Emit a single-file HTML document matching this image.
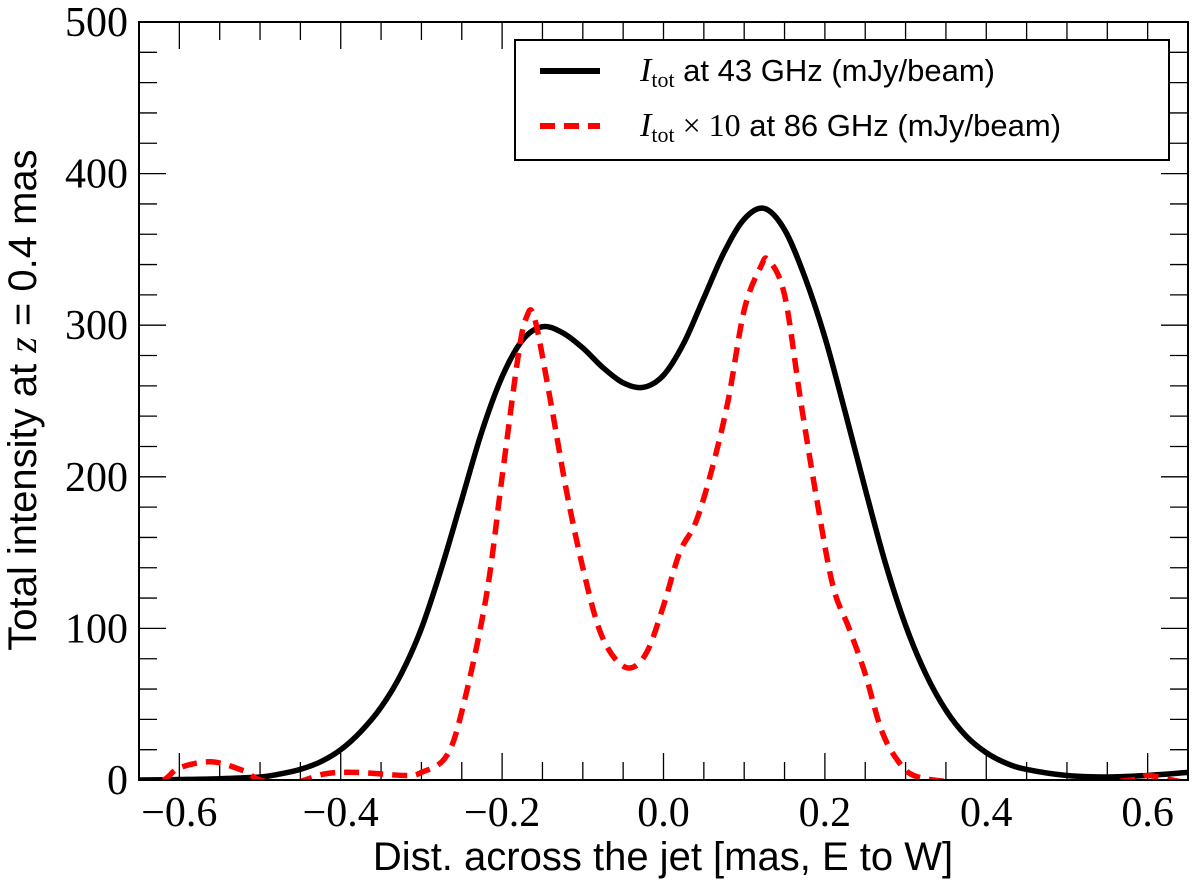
<!DOCTYPE html>
<html><head><meta charset="utf-8"><style>
body{margin:0;background:#fff}
svg{display:block}
.tk{font-family:"Liberation Serif",serif;font-size:42px;fill:#000}
.lb{font-family:"Liberation Sans",sans-serif;font-size:40px;fill:#000}
.lg{font-family:"Liberation Sans",sans-serif;font-size:31px;fill:#000}
.it{font-family:"Liberation Serif",serif;font-style:italic}
</style></head><body>
<svg id="chart" width="1200" height="890" viewBox="0 0 1200 890">
<defs><clipPath id="pc"><rect x="139" y="22" width="1049" height="758"/></clipPath></defs>
<g id="ticks"></g>
<g id="series" clip-path="url(#pc)"></g>
<rect x="139" y="22" width="1049" height="758" fill="none" stroke="#000" stroke-width="2"/>
<g id="labels"></g>
<text class="lb" x="663" y="870" text-anchor="middle">Dist. across the jet [mas, E to W]</text>
<text class="lb" transform="translate(36,400) rotate(-90)" text-anchor="middle">Total intensity at <tspan class="it">z</tspan> = 0.4 mas</text>
<g>
<rect x="515" y="40" width="654" height="120" fill="#fff" stroke="#000" stroke-width="2"/>
<line x1="540" y1="71" x2="600" y2="71" stroke="#000" stroke-width="6"/>
<text class="lg" x="640" y="81"><tspan class="it" font-size="34">I</tspan><tspan font-family="Liberation Serif" font-size="22" dy="6">tot</tspan><tspan dy="-6"> at 43 GHz (mJy/beam)</tspan></text>
<line x1="540" y1="126" x2="600" y2="126" stroke="#f00" stroke-width="6" stroke-dasharray="15,9"/>
<text class="lg" x="640" y="136"><tspan class="it" font-size="34">I</tspan><tspan font-family="Liberation Serif" font-size="22" dy="6">tot</tspan><tspan dy="-6" font-family="Liberation Serif" font-size="32"> × 10</tspan><tspan> at 86 GHz (mJy/beam)</tspan></text>
</g>
</svg>
<script>
const blackX=[-0.65,-0.6,-0.55,-0.5,-0.475,-0.45,-0.425,-0.4,-0.375,-0.35,-0.325,-0.3,-0.275,-0.25,-0.225,-0.2,-0.175,-0.15,-0.125,-0.1,-0.075,-0.05,-0.025,0,0.025,0.05,0.075,0.1,0.125,0.15,0.175,0.2,0.225,0.25,0.275,0.3,0.325,0.35,0.375,0.4,0.425,0.45,0.5,0.55,0.6,0.65];
const blackY=[0,0.3,0.8,2,4,7,12,20,32,48,70,100,140,185,230,266,290,299,295,285,272,262,259,267,288,318,348,370,377,363,332,292,243,192,143,102,70,46,29,18,11,7,3,2,3,5];
const redX=[-0.65,-0.62,-0.6,-0.56,-0.52,-0.5,-0.46,-0.42,-0.38,-0.32,-0.3,-0.27,-0.25,-0.22,-0.2,-0.18,-0.17,-0.16,-0.14,-0.12,-0.1,-0.08,-0.06,-0.04,-0.02,0.0,0.02,0.04,0.06,0.08,0.1,0.12,0.13,0.15,0.17,0.19,0.21,0.23,0.25,0.27,0.29,0.31,0.35,0.4,0.5,0.58,0.6,0.63,0.65];
const redY=[-2,0,8,12,6,0,-2,4,5,3,5,15,45,120,200,280,305,305,250,190,140,100,80,74,85,115,150,170,205,250,310,338,343,320,250,185,128,100,70,33,13,3,-1,-3,-3,0,3,0,-2];
const xTicks=[-0.6,-0.4,-0.2,0.0,0.2,0.4,0.6];
const xTickLabels=["−0.6","−0.4","−0.2","0.0","0.2","0.4","0.6"];
const yTicks=[0,100,200,300,400,500];
const yTickLabels=["0","100","200","300","400","500"];
const X0=139,X1=1188,Y0=780,Y1=22,xmin=-0.65,xmax=0.65,ymin=0,ymax=500;
const sx=v=>X0+(v-xmin)/(xmax-xmin)*(X1-X0);
const sy=v=>Y0-(v-ymin)/(ymax-ymin)*(Y0-Y1);
const NS="http://www.w3.org/2000/svg";
function mk(t,a,p){const e=document.createElementNS(NS,t);for(const k in a)e.setAttribute(k,a[k]);p.appendChild(e);return e;}
function smooth(xs,ys){const p=xs.map((x,i)=>[sx(x),sy(ys[i])]);let d="M"+p[0][0]+","+p[0][1];
for(let i=0;i<p.length-1;i++){const a=p[Math.max(i-1,0)],b=p[i],c=p[i+1],e=p[Math.min(i+2,p.length-1)];
d+=" C"+(b[0]+(c[0]-a[0])/6)+","+(b[1]+(c[1]-a[1])/6)+" "+(c[0]-(e[0]-b[0])/6)+","+(c[1]-(e[1]-b[1])/6)+" "+c[0]+","+c[1];}return d;}
const tg=document.getElementById('ticks'),lg=document.getElementById('labels'),sg=document.getElementById('series');
for(let i=-13;i<=13;i++){const v=i*0.05;const x=sx(v);const L=(i%4===0)?27:18;
const t1=mk('line',{x1:x,y1:Y0,x2:x,y2:Y0-L,stroke:'#000','stroke-width':1.3},tg);


const t2=mk('line',{x1:x,y1:Y1,x2:x,y2:Y1+L,stroke:'#000','stroke-width':1.3},tg);

}
for(let v=0;v<=500;v+=20){const y=sy(v);const L=(v%100===0)?27:18;
const t1=mk('line',{x1:X0,y1:y,x2:X0+L,y2:y,stroke:'#000','stroke-width':1.3},tg);


const t2=mk('line',{x1:X1,y1:y,x2:X1-L,y2:y,stroke:'#000','stroke-width':1.3},tg);

}
xTicks.forEach((v,i)=>{const t=mk('text',{class:'tk',x:sx(v),y:826,'text-anchor':'middle'},lg);t.textContent=xTickLabels[i];

});
yTicks.forEach((v,i)=>{const t=mk('text',{class:'tk',x:128,y:sy(v)+14,'text-anchor':'end'},lg);t.textContent=yTickLabels[i];

});
const pb=mk('path',{d:smooth(blackX,blackY),fill:'none',stroke:'#000','stroke-width':5.5},sg);


const pr=mk('path',{d:smooth(redX,redY),fill:'none',stroke:'#f00','stroke-width':5.5,'stroke-dasharray':'15,9'},sg);


</script>
</body></html>
